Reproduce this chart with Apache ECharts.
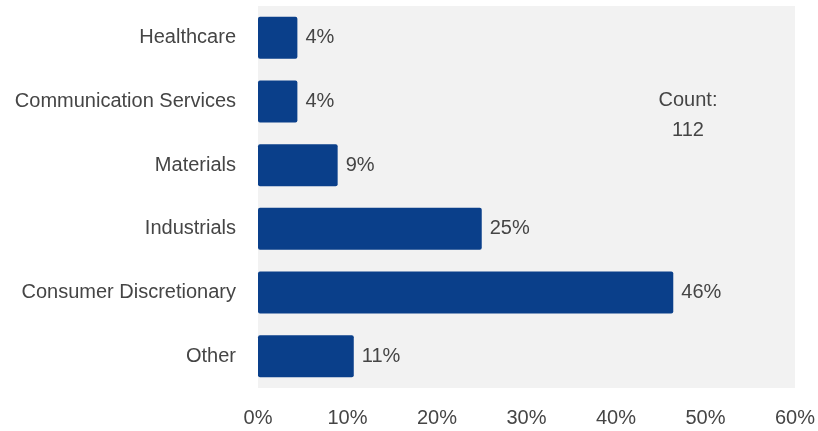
<!DOCTYPE html>
<html>
<head>
<meta charset="utf-8">
<script src="https://cdn.jsdelivr.net/npm/echarts@6/dist/echarts.min.js"></script>
<style>
  html, body { margin: 0; padding: 0; background: #fff; }
  #chart { width: 818px; height: 431px; }
</style>
</head>
<body>
<div id="chart"></div>
<script>
// sectors, top to bottom
const categories = ['Healthcare', 'Communication Services', 'Materials', 'Industrials', 'Consumer Discretionary', 'Other'];
// share of holdings (%)
const shares = [4.4, 4.4, 8.9, 25.0, 46.4, 10.7];
const xTicks = [0, 10, 20, 30, 40, 50, 60];
const countText = 'Count:\n112';

const textColor = '#454545';
const barColor = '#0a3f8a';
const fontFamily = '"Liberation Sans", Arial, sans-serif';

let chart = echarts.init(document.getElementById('chart'));

let option = {
  animation: false,
  grid: {
    left: 258,
    right: 21,
    top: 6,
    bottom: 43,
    show: true,
    backgroundColor: '#f2f2f2',
    borderWidth: 0
  },
  xAxis: {
    type: 'value',
    min: xTicks[0],
    max: xTicks[xTicks.length - 1],
    interval: 10,
    axisLine: { show: false },
    axisTick: { show: false },
    splitLine: { show: false },
    axisLabel: {
      margin: 20,
      fontSize: 20,
      color: textColor,
      fontFamily: fontFamily,
      formatter: v => v + '%'
    }
  },
  yAxis: {
    type: 'category',
    inverse: true,
    data: categories,
    axisLine: { show: false },
    axisTick: { show: false },
    axisLabel: {
      margin: 22,
      fontSize: 20,
      color: textColor,
      fontFamily: fontFamily
    }
  },
  series: [{
    type: 'bar',
    data: shares,
    barCategoryGap: '34%',
    itemStyle: { color: barColor, borderRadius: 2 },
    label: {
      show: true,
      position: 'right',
      distance: 8,
      fontSize: 20,
      color: textColor,
      fontFamily: fontFamily,
      formatter: p => Math.round(p.value) + '%'
    }
  }],
  graphic: [{
    type: 'text',
    x: 688,
    y: 85,
    style: {
      text: countText,
      align: 'center',
      fill: textColor,
      fontSize: 20,
      lineHeight: 30,
      fontFamily: fontFamily
    }
  }]
};

chart.setOption(option);
</script>
</body>
</html>
